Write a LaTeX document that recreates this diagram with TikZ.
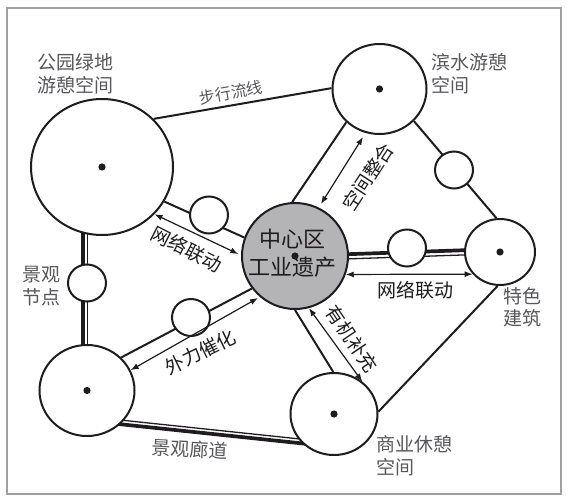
\documentclass[tikz,border=0pt]{standalone}
\usepackage{fontspec}
\setmainfont{Noto Sans CJK SC}
\usetikzlibrary{shapes.geometric,arrows.meta,backgrounds}
\definecolor{lblgrey}{RGB}{88,88,92}
\definecolor{hubgrey}{RGB}{180,180,183}
\definecolor{framegrey}{RGB}{160,160,160}
\definecolor{ink}{RGB}{30,28,30}
\begin{document}
\begin{tikzpicture}[x=1pt,y=-1pt,
  blob/.style={ellipse,draw=ink,line width=2pt,fill=white,inner sep=0pt},
  smallblob/.style={blob,minimum width=38pt,minimum height=37pt},
  link/.style={draw=ink,line width=2pt},
  thickl/.style={draw=ink,line width=3.7pt},
  thinl/.style={draw=ink,line width=1.3pt},
  biarrow/.style={draw=ink,line width=1.2pt,{Latex[length=8pt,width=6pt]}-{Latex[length=8pt,width=6pt]}},
  nlabel/.style={text=lblgrey,inner sep=0pt,align=left,font=\fontsize{19}{23}\selectfont},
  llabel/.style={text=ink,inner sep=0pt,font=\fontsize{19}{23}\selectfont},
  dot/.style={fill=ink}
]
\useasboundingbox (0,0) rectangle (568,503);
% big circles
\node[blob,minimum width=142pt,minimum height=136pt] (park) at (102,167) {};
\node[blob,minimum width=94pt,minimum height=90pt] (water) at (379.5,89) {};
\node[blob,fill=hubgrey,minimum width=106pt,minimum height=106pt] (hub) at (295,256) {};
\node[blob,minimum width=70pt,minimum height=66pt] (spec) at (500,252) {};
\node[blob,minimum width=87pt,minimum height=82pt] (comm) at (334,414) {};
\node[blob,minimum width=95pt,minimum height=91pt] (bl) at (87,390.5) {};
% small circles
\node[smallblob] (n1) at (209,215) {};
\node[smallblob] (n2) at (87,283) {};
\node[smallblob] (n3) at (454,170) {};
\node[smallblob] (n4) at (407,248) {};
\node[smallblob] (n5) at (191,317.5) {};
% connectors under the circles
\begin{scope}[on background layer]
 \fill[white] (0,0) rectangle (568,503);
 \draw[link] (park.43) -- (water.179);
 \draw[link] (park.-29) -- (hub.160);
 \draw[link] (water.-135) -- (hub.93);
 \draw[link] (water.-43) -- (spec.96);
 \draw[link] (spec.-94) -- (comm.3);
 \draw[link] (hub.-90) -- (comm.91);
 \draw[link] (bl.44) -- (hub.-143);
 \draw[thickl] ([shift={(-19,0)}]park.center) -- ([shift={(-4,0)}]bl.center);
 \draw[thinl] ([shift={(-14.3,0)}]park.center) -- ([shift={(0.7,0)}]bl.center);
 \draw[thickl] (hub.center) -- ([shift={(0,-3)}]spec.center);
 \draw[thinl] ([shift={(0,4.7)}]hub.center) -- ([shift={(0,1.7)}]spec.center);
 \draw[thinl] ([shift={(18,27.9)}]bl.center) -- ([shift={(-14,27.1)}]comm.center);
 \draw[thickl] ([shift={(18,32.1)}]bl.center) -- ([shift={(-14,31.3)}]comm.center);
\end{scope}
% centre dots
\foreach \n in {park,water,hub,spec,comm,bl} \fill[dot] (\n.center) circle[radius=3.6];
% double arrows
\draw[biarrow] (park.-42) -- ([shift={(-56.7,-2)}]hub.center);
\draw[biarrow] ([shift={(-16.5,48)}]water.center) -- ([shift={(26,-52)}]hub.center);
\draw[biarrow] (hub.-20) -- (spec.-141);
\draw[biarrow] (hub.-75) -- (comm.49);
\draw[biarrow] (bl.25) -- ([shift={(-37,42)}]hub.center);
% node labels
\node[nlabel,anchor=west] (lpark) at (37,73.5) {公园绿地\\游憩空间};
\node[nlabel,anchor=west] (lwater) at (431,73.5) {滨水游憩\\空间};
\node[nlabel,anchor=west] (lnode) at (22,286.5) {景观\\节点};
\node[nlabel,anchor=west,font=\fontsize{19}{22}\selectfont] (lspec) at (503,307.5) {特色\\建筑};
\node[nlabel,anchor=west] (lcomm) at (376,455.5) {商业休憩\\空间};
\node[text=ink,inner sep=0pt,align=center,font=\fontsize{22}{28.5}\selectfont] (lhub) at (292,253) {中心区\\工业遗产};
% link labels
\node[nlabel,font=\fontsize{16}{19}\selectfont,rotate=10] (lwalk) at (231,92.5) {步行流线};
\node[llabel,rotate=-27] (lnet1) at (187,249) {网络联动};
\node[llabel,rotate=57] (lspace) at (368,177) {空间整合};
\node[llabel] (lnet2) at (415,290) {网络联动};
\node[llabel,rotate=-56] (lorg) at (352,339) {有机补充};
\node[llabel,rotate=26] (lext) at (200,352) {外力催化};
\node[nlabel,rotate=-3] (lcorr) at (190,449) {景观廊道};
% frame
\draw[framegrey,line width=1.5pt] (7,8) rectangle (561,494);
\end{tikzpicture}
\end{document}
